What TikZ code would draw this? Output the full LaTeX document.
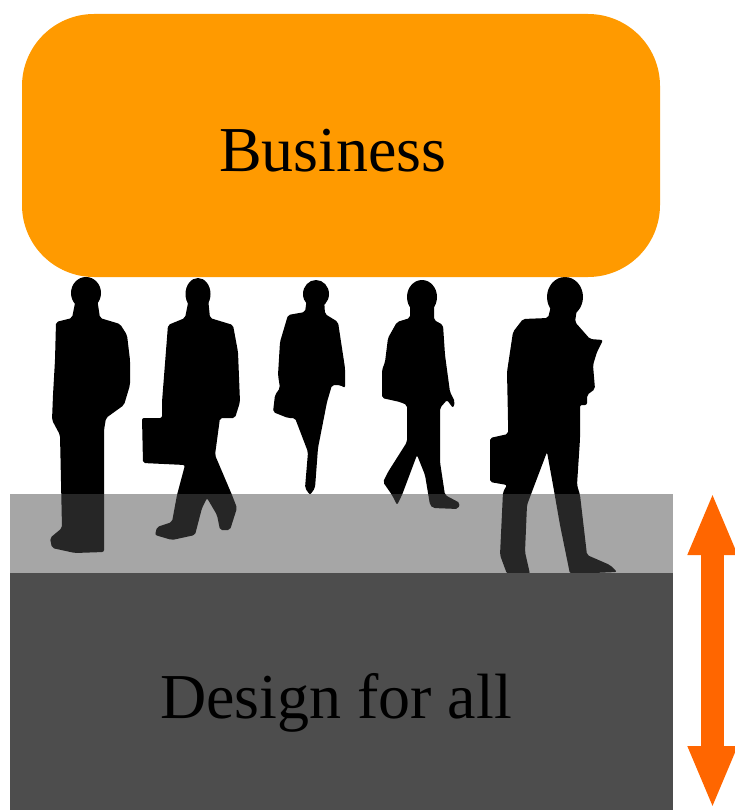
\documentclass[tikz,border=0pt]{standalone}
\usepackage{fontspec}
\setmainfont{Liberation Serif}
\usetikzlibrary{arrows.meta}
\definecolor{bizorange}{HTML}{FF9A00}
\definecolor{floorgray}{HTML}{4D4D4D}
\definecolor{arroworange}{HTML}{FF6600}
\tikzset{
  person/.style={fill=black, draw=none, rounded corners=2pt},
  label text/.style={font=\fontsize{64}{70}\selectfont, text=black, inner sep=0pt, anchor=base},
  range arrow/.style={arroworange, line width=23pt,
    {Triangle[width=45pt,length=63pt]}-{Triangle[width=45pt,length=63pt]}}
}
\begin{document}
\begin{tikzpicture}[x=1pt,y=-1pt]
\useasboundingbox (0,0) rectangle (734,810);

% walking people
% man standing, hands in pockets
\fill[person] (86,293) ellipse [x radius=15, y radius=16];
\fill[person] (76,298) -- (97,298) -- (100,318) -- (120,324) -- (127,335) -- (130,360)
  -- (130,385) -- (124,405) -- (106,418) -- (104,430) -- (104,552) -- (75,553)
  -- (52,548) -- (50,538) -- (62,528) -- (60,435) -- (52,420) -- (53,395)
  -- (55,360) -- (56,322) -- (72,318) -- cycle;
% man with briefcase
\fill[person] (198,294) ellipse [x radius=12.5, y radius=16];
\fill[person] (189,298) -- (208,298) -- (210,318) -- (233,325) -- (238,352) -- (240,402)
  -- (235,418) -- (220,418) -- (215,455) -- (232,495) -- (237,508) -- (230,530)
  -- (220,530) -- (217,515) -- (207,498) -- (202,508) -- (195,535) -- (172,540)
  -- (155,535) -- (157,527) -- (172,522) -- (177,495) -- (185,465) -- (143,463)
  -- (142,418) -- (162,418) -- (162,402) -- (168,325) -- (185,318) -- cycle;
% woman with handbag
\fill[person] (316,294) ellipse [x radius=13, y radius=14];
\fill[person] (307,298) -- (324,298) -- (325,314) -- (338,322) -- (345,368) -- (345,388)
  -- (340,385) -- (332,385) -- (327,402) -- (318,448) -- (315,488) -- (310,495)
  -- (305,488) -- (308,452) -- (295,418) -- (288,418) -- (273,412) -- (275,395)
  -- (280,388) -- (278,375) -- (280,342) -- (288,315) -- (305,312) -- cycle;
% woman with shoulder bag
\fill[person] (422,297) ellipse [x radius=15, y radius=17];
\fill[person] (410,302) -- (434,302) -- (434,320) -- (443,325) -- (445,355) -- (450,392)
  -- (455,402) -- (453,408) -- (447,400) -- (440,408) -- (440,462) -- (445,495)
  -- (460,503) -- (458,509) -- (433,508) -- (430,505) -- (425,475) -- (417,455)
  -- (402,495) -- (397,505) -- (392,495) -- (383,482) -- (388,472) -- (407,442)
  -- (407,405) -- (400,402) -- (382,398) -- (382,370) -- (385,362) -- (388,338)
  -- (397,322) -- (410,318) -- cycle;
% man reading, with briefcase
\fill[person] (565,297) ellipse [x radius=18, y radius=20];
\fill[person] (552,302) -- (578,302) -- (575,322) -- (590,339) -- (603,340) -- (597,352)
  -- (593,365) -- (595,389) -- (587,395) -- (587,405) -- (580,405) -- (580,439)
  -- (577,485) -- (580,495) -- (587,555) -- (610,565) -- (617,572) -- (570,574)
  -- (560,525) -- (553,485) -- (547,452) -- (533,489) -- (527,505) -- (525,552)
  -- (530,574) -- (507,574) -- (500,555) -- (503,492) -- (507,485) -- (490,482)
  -- (490,438) -- (508,434) -- (508,419) -- (507,372) -- (513,332) -- (523,319)
  -- (548,318) -- cycle;

% business block
\fill[bizorange, rounded corners=72pt] (22,14) rectangle (660,277);
\node[label text] (business) at (333,172) {Business};

% design-for-all base with translucent top band
\fill[floorgray, opacity=0.5] (10,494) rectangle (673,573);
\fill[floorgray] (10,573) rectangle (673,810);
\node[label text] (design) at (336,718) {Design for all};

% range arrow beside the base
\coordinate (arrtop) at (712.5,492);
\coordinate (arrbot) at (712.5,809);
\draw[range arrow] (arrbot) -- (arrtop);
\end{tikzpicture}
\end{document}
